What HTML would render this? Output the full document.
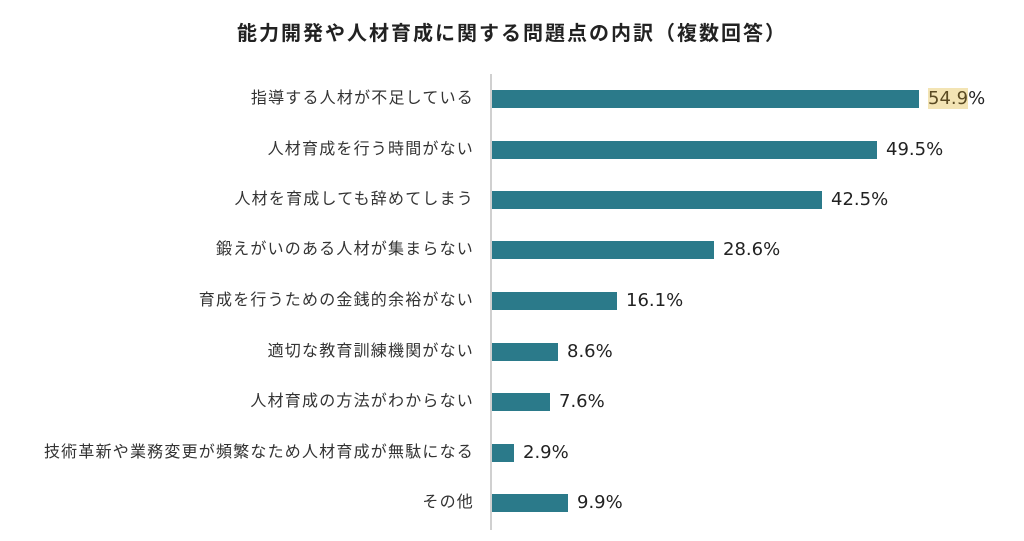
<!DOCTYPE html>
<html><head><meta charset="utf-8"><style>
body{margin:0;width:1024px;height:541px;background:#fff;position:relative;overflow:hidden;font-family:"Liberation Sans","Noto Sans CJK JP",sans-serif;}
.t{position:absolute;left:0;width:1024px;top:17px;text-align:center;font-size:20px;letter-spacing:2px;font-weight:bold;color:#222;}
.ax{position:absolute;left:490px;top:74px;width:2px;height:456px;background:#d0d0d0;}
.l{position:absolute;right:550px;font-size:16px;letter-spacing:1.2px;color:#333;white-space:nowrap;line-height:18px;}
.b{position:absolute;left:492px;height:18px;background:#2b7a8a;}
.v{position:absolute;font-family:"DejaVu Sans",sans-serif;font-size:18px;color:#222;line-height:22px;}
.hl{background:#f3e4b4;color:#5a4a22;}
</style></head><body>
<div class="t">能力開発や人材育成に関する問題点の内訳（複数回答）</div>
<div class="ax"></div>

<div class="l" style="top:90px">指導する人材が不足している</div>
<div class="b" style="top:90px;width:427px"></div>
<div class="v" style="left:928px;top:88px"><span class="hl">54.9</span>%</div>

<div class="l" style="top:141px">人材育成を行う時間がない</div>
<div class="b" style="top:141px;width:385px"></div>
<div class="v" style="left:886px;top:139px">49.5%</div>

<div class="l" style="top:191px">人材を育成しても辞めてしまう</div>
<div class="b" style="top:191px;width:330px"></div>
<div class="v" style="left:831px;top:189px">42.5%</div>

<div class="l" style="top:241px">鍛えがいのある人材が集まらない</div>
<div class="b" style="top:241px;width:222px"></div>
<div class="v" style="left:723px;top:239px">28.6%</div>

<div class="l" style="top:292px">育成を行うための金銭的余裕がない</div>
<div class="b" style="top:292px;width:125px"></div>
<div class="v" style="left:626px;top:290px">16.1%</div>

<div class="l" style="top:343px">適切な教育訓練機関がない</div>
<div class="b" style="top:343px;width:66px"></div>
<div class="v" style="left:567px;top:341px">8.6%</div>

<div class="l" style="top:393px">人材育成の方法がわからない</div>
<div class="b" style="top:393px;width:58px"></div>
<div class="v" style="left:559px;top:391px">7.6%</div>

<div class="l" style="top:444px">技術革新や業務変更が頻繁なため人材育成が無駄になる</div>
<div class="b" style="top:444px;width:22px"></div>
<div class="v" style="left:523px;top:442px">2.9%</div>

<div class="l" style="top:494px">その他</div>
<div class="b" style="top:494px;width:76px"></div>
<div class="v" style="left:577px;top:492px">9.9%</div>
</body></html>
